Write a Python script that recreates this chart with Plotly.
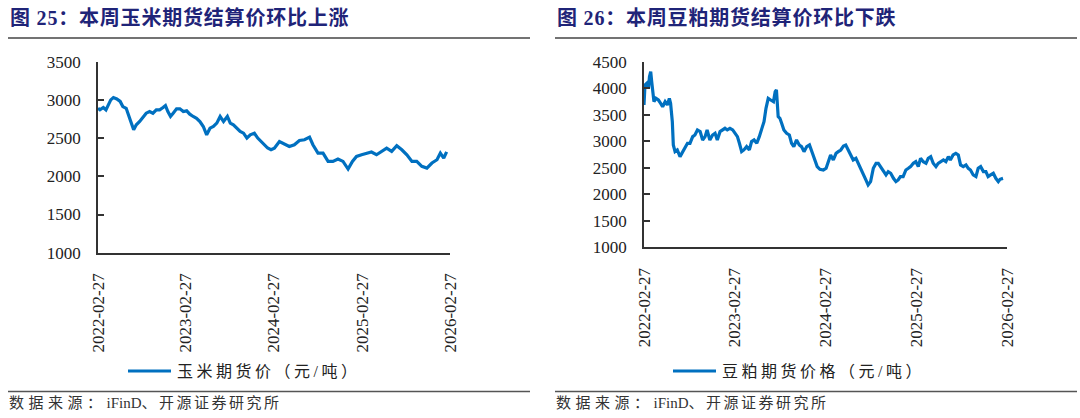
import pandas as pd
import plotly.graph_objects as go

start = pd.Timestamp("2022-02-27")

# 玉米期货价 (元/吨): days since 2022-02-27 and value
corn_days = [0, 8, 22, 33, 43, 53, 64, 78, 92, 103, 117, 127, 136, 148, 159, 173, 187, 200,
             214, 228, 242, 256, 270, 280, 290, 301, 312, 326, 340, 354, 368, 381, 395, 409,
             423, 437, 451, 465, 479, 493, 507, 521, 537, 549, 562, 576, 590, 604, 618, 632,
             649, 663, 677, 690, 704, 718, 732, 753, 774, 794, 815, 836, 857, 878, 892, 913,
             934, 955, 975, 996, 1017, 1038, 1056, 1073, 1094, 1115, 1135, 1156, 1177, 1198,
             1219, 1240, 1261, 1282, 1303, 1323, 1344, 1365, 1386, 1407, 1421, 1435, 1447]
corn_price = [2890, 2870, 2900, 2870, 2935, 3000, 3030, 3013, 2980, 2913, 2890, 2783, 2717,
              2610, 2675, 2717, 2770, 2826, 2848, 2826, 2870, 2870, 2900, 2926, 2848, 2783,
              2826, 2883, 2883, 2848, 2857, 2813, 2783, 2760, 2717, 2652, 2543, 2630, 2652,
              2696, 2783, 2717, 2783, 2696, 2674, 2630, 2587, 2565, 2500, 2543, 2565, 2500,
              2457, 2413, 2370, 2348, 2369, 2456, 2426, 2391, 2413, 2469, 2478, 2513, 2413,
              2304, 2304, 2195, 2195, 2226, 2195, 2095, 2195, 2260, 2282, 2304, 2317, 2282,
              2326, 2369, 2326, 2400, 2347, 2282, 2195, 2195, 2130, 2108, 2174, 2217, 2304,
              2239, 2320]

# 豆粕期货价格 (元/吨)
meal_days = [0, 4, 11, 18, 22, 27, 31, 35, 40, 48, 58, 67, 75, 85, 94, 102, 107, 114, 118,
             125, 134, 145, 156, 165, 175, 185, 196, 205, 215, 226, 236, 246, 254, 265, 276,
             286, 295, 306, 317, 326, 335, 346, 357, 366, 376, 384, 393, 402, 413, 424, 433,
             443, 454, 464, 473, 483, 491, 500, 510, 521, 528, 533, 540, 547, 554, 563, 574,
             585, 594, 603, 614, 625, 634, 644, 655, 666, 678, 688, 697, 708, 722, 733, 741,
             751, 762, 773, 782, 792, 803, 812, 822, 831, 842, 853, 863, 872, 882, 893, 902,
             912, 923, 934, 943, 952, 963, 974, 983, 993, 1004, 1014, 1023, 1032, 1043, 1054,
             1064, 1073, 1084, 1094, 1104, 1113, 1124, 1135, 1144, 1154, 1164, 1175, 1184,
             1194, 1205, 1215, 1225, 1233, 1244, 1255, 1265, 1274, 1285, 1296, 1305, 1314,
             1325, 1336, 1345, 1355, 1366, 1376, 1385, 1395, 1406, 1416, 1426, 1433, 1445]
meal_price = [3684, 4060, 4092, 3998, 4217, 4312, 4123, 3935, 3746, 3809, 3778, 3715, 3652,
              3746, 3684, 3809, 3715, 3370, 2930, 2804, 2836, 2710, 2804, 2867, 2961, 2961,
              3087, 3118, 3213, 3181, 3024, 3087, 3213, 3024, 3118, 3150, 3024, 3181, 3213,
              3244, 3213, 3244, 3213, 3150, 3087, 2961, 2804, 2836, 2899, 2836, 2993, 3024,
              2961, 3087, 3244, 3370, 3621, 3809, 3778, 3746, 3935, 3967, 3464, 3432, 3338,
              3213, 3150, 3118, 2961, 2899, 3024, 2930, 2899, 2804, 2899, 2930, 2772, 2647,
              2521, 2471, 2458, 2490, 2615, 2741, 2647, 2772, 2804, 2835, 2911, 2929, 2835,
              2741, 2647, 2678, 2584, 2490, 2396, 2270, 2176, 2239, 2490, 2584, 2584, 2521,
              2427, 2364, 2427, 2396, 2301, 2239, 2270, 2333, 2333, 2458, 2490, 2521, 2584,
              2615, 2521, 2678, 2615, 2584, 2678, 2710, 2584, 2521, 2584, 2615, 2647, 2615,
              2710, 2647, 2741, 2772, 2741, 2553, 2521, 2553, 2490, 2458, 2364, 2333, 2490,
              2521, 2427, 2427, 2333, 2364, 2396, 2301, 2239, 2283, 2300]

tick_dates = ["2022-02-27", "2023-02-27", "2024-02-27", "2025-02-27", "2026-02-27"]
titles = ["图 25：本周玉米期货结算价环比上涨", "图 26：本周豆粕期货结算价环比下跌"]
legend_names = ["玉米期货价（元/吨）", "豆粕期货价格（元/吨）"]
source_parts = ["数据来源：", "iFinD", "、开源证券研究所"]

W, H = 1080, 418
BLUE = "#0070C0"
SERIF = "'Liberation Serif', 'Times New Roman', 'Noto Sans CJK SC', serif"

corn_x = [start + pd.Timedelta(days=d) for d in corn_days]
meal_x = [start + pd.Timedelta(days=d) for d in meal_days]

fig = go.Figure()
fig.add_trace(go.Scatter(x=corn_x, y=corn_price, mode="lines", name=legend_names[0],
                         line=dict(color=BLUE, width=3.2), xaxis="x", yaxis="y"))
fig.add_trace(go.Scatter(x=meal_x, y=meal_price, mode="lines", name=legend_names[1],
                         line=dict(color=BLUE, width=3.2), xaxis="x2", yaxis="y2"))


def px_x(v):
    return v / W


def px_y(v):
    return 1 - v / H


def spaced(text, gap):
    return f'<span style="letter-spacing:{gap}px">{text}</span>'


xcommon = dict(type="date", range=[tick_dates[0], tick_dates[-1]], tickvals=tick_dates,
               ticktext=tick_dates, tickangle=-90, showline=True, linecolor="#333",
               linewidth=1.6, ticks="", showgrid=False, zeroline=False,
               tickfont=dict(family=SERIF, size=17, color="#222"), ticklabelstandoff=12)
ycommon = dict(showline=True, linecolor="#333", linewidth=1.6, ticks="inside", ticklen=6,
               tickcolor="#333", tickwidth=1.6, showgrid=False, zeroline=False,
               tickfont=dict(family=SERIF, size=17, color="#222"), ticklabelstandoff=12)

fig.update_layout(
    width=W, height=H, margin=dict(l=0, r=0, t=0, b=0, autoexpand=False),
    paper_bgcolor="white", plot_bgcolor="white", showlegend=False,
    xaxis=dict(xcommon, domain=[px_x(98), px_x(450)], anchor="y"),
    yaxis=dict(ycommon, domain=[px_y(252.7), px_y(61.7)], range=[1000, 3500], dtick=500,
               anchor="x"),
    xaxis2=dict(xcommon, domain=[px_x(644), px_x(1007)], anchor="y2"),
    yaxis2=dict(ycommon, domain=[px_y(247.3), px_y(61.7)], range=[1000, 4500], dtick=500,
                anchor="x2"),
)

source_text = (spaced(source_parts[0], 4.5) + source_parts[1] + spaced(source_parts[2], 2.5))

shapes = []
annotations = []
for i, x0 in enumerate([8, 555]):
    x1 = x0 + 522
    # title and rules
    annotations.append(dict(text="<b>" + spaced(titles[i], 0.8) + "</b>", x=px_x(x0),
                            y=px_y(17), xref="paper", yref="paper", xanchor="left",
                            yanchor="middle", showarrow=False,
                            font=dict(family=SERIF, size=20, color="#1F2478")))
    shapes.append(dict(type="line", xref="paper", yref="paper", x0=px_x(x0), x1=px_x(x1),
                       y0=px_y(38), y1=px_y(38), line=dict(color="#444", width=1.5)))
    shapes.append(dict(type="line", xref="paper", yref="paper", x0=px_x(x0), x1=px_x(x1),
                       y0=px_y(391.5), y1=px_y(391.5), line=dict(color="#555", width=1.5)))
    annotations.append(dict(text=source_text, x=px_x(x0 - 1), y=px_y(403), xref="paper",
                            yref="paper", xanchor="left", yanchor="middle", showarrow=False,
                            font=dict(family=SERIF, size=15, color="#333")))

# legends
for lx, name in zip([128, 673], legend_names):
    shapes.append(dict(type="line", xref="paper", yref="paper", x0=px_x(lx), x1=px_x(lx + 43),
                       y0=px_y(371), y1=px_y(371), line=dict(color=BLUE, width=3)))
    annotations.append(dict(text=spaced(name, 3.5), x=px_x(lx + 47), y=px_y(371),
                            xref="paper", yref="paper", xanchor="left", yanchor="middle",
                            showarrow=False, font=dict(family=SERIF, size=16, color="#222")))

fig.update_layout(shapes=shapes, annotations=annotations)
fig.write_html("out.html", config={"displayModeBar": False},
               post_script="document.body.style.margin='0';")
